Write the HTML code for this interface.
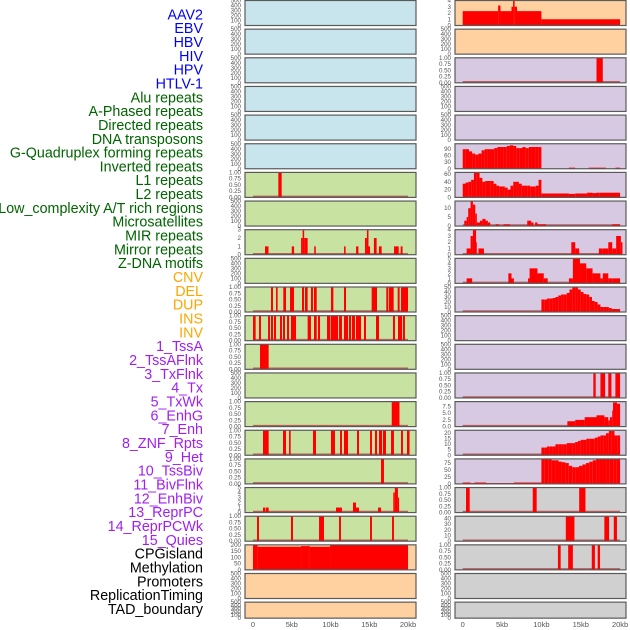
<!DOCTYPE html>
<html><head><meta charset="utf-8"><style>
body{margin:0;background:#fff;}
svg{display:block;font-family:"Liberation Sans",sans-serif;}
</style></head><body>
<svg id="c" width="630" height="630"></svg>
<script>
const trackLabels=["AAV2","EBV","HBV","HIV","HPV","HTLV-1","Alu repeats","A-Phased repeats","Directed repeats","DNA transposons","G-Quadruplex forming repeats","Inverted repeats","L1 repeats","L2 repeats","Low_complexity A/T rich regions","Microsatellites","MIR repeats","Mirror repeats","Z-DNA motifs","CNV","DEL","DUP","INS","INV","1_TssA","2_TssAFlnk","3_TxFlnk","4_Tx","5_TxWk","6_EnhG","7_Enh","8_ZNF_Rpts","9_Het","10_TssBiv","11_BivFlnk","12_EnhBiv","13_ReprPC","14_ReprPCWk","15_Quies","CPGisland","Methylation","Promoters","ReplicationTiming","TAD_boundary"];
const labelColors=[];
for(let i=0;i<44;i++){labelColors.push(i<6?"#0000ff":i<19?"#006400":i<24?"#ffa500":i<39?"#a020f0":"#000000");}
const xTicks=[0,5,10,15,20];
const xTickLabels=["0","5kb","10kb","15kb","20kb"];
const ticksEmpty=[0,100,200,300,400,500];
const ticksUnit=[0,0.25,0.5,0.75,1];
const ticksUnitLbl=["0.00","0.25","0.50","0.75","1.00"];
// left column
const segL6=[[3.27,3.7,1]];
const segL8=[[1.55,2.0,1],[5.0,5.3,1],[6.2,6.4,2],[6.4,6.6,3],[6.6,7.05,2],[7.9,8.1,1],[11.75,11.95,1],[13.3,13.6,1],[14.45,14.7,2],[14.7,14.9,3],[14.9,15.1,1],[15.6,15.95,2],[16.25,16.6,1],[18.2,18.8,1],[19.05,19.3,1]];
const segL10=[[2.32,2.58,1],[2.97,3.18,1],[3.91,4.26,1],[4.77,5.29,1],[6.32,6.58,1],[6.71,7.05,1],[7.48,7.74,1],[7.87,8.22,1],[10.06,10.37,1],[11.74,12.0,1],[15.31,16.0,1],[17.2,17.46,1],[17.55,18.15,1],[18.67,18.92,1],[19.1,20.0,1]];
const segL11=[[0,0.34,1],[0.77,1.03,1],[1.94,2.19,1],[2.32,2.58,1],[2.71,2.97,1],[3.48,3.74,1],[3.87,4.13,1],[4.39,4.65,1],[4.9,5.55,1],[7.05,7.48,1],[7.87,8.22,1],[8.39,8.65,1],[9.55,9.98,1],[10.06,10.97,1],[11.1,11.48,1],[11.74,12.26,1],[12.39,12.65,1],[12.77,13.16,1],[13.29,13.94,1],[14.32,14.58,1],[15.87,16.26,1],[18.06,18.32,1],[18.71,19.23,1],[19.35,19.61,1]];
const segL12=[[0.9,2.02,1]];
const segL14=[[17.9,18.9,1]];
const segL15=[[1.29,2.02,1],[3.87,4.26,1],[4.65,4.86,1],[7.74,8.13,1],[10.06,10.58,1],[11.23,11.48,1],[11.74,12.26,1],[13.42,13.68,1],[15.1,15.35,1],[15.74,16.0,1],[16.26,16.65,1],[16.77,17.16,1],[17.81,18.19,1],[19.1,19.35,1],[19.87,20.2,1]];
const segL16=[[16.52,16.9,1]];
const segL17=[[1.29,1.55,1],[1.63,2.02,1],[10.71,11.48,1],[12.9,13.29,2],[13.29,13.68,1],[16.13,16.52,1],[18.1,18.3,4],[18.3,18.7,5],[18.7,18.85,3]];
const segL18=[[0.52,0.77,1],[4.9,5.16,1],[8.52,9.16,1],[11.1,11.35,1],[15.1,15.35,1],[17.94,18.19,1]];
const segL19=[[0,0.6,200],[0.6,6.2,185],[6.2,7.1,190],[7.1,7.3,192],[7.3,9.94,185],[9.94,20.0,200]];
// right column
const segR0=[[0,4.5,2.3],[4.5,4.8,3.2],[4.8,6.2,2.3],[6.2,6.4,3],[6.4,6.6,4],[6.6,6.9,3],[6.9,10.0,2.3],[10.0,20.0,1]];
const segR2=[[17.0,17.8,1]];
const r5Vals=[90,90,80,70,65,70,85,90,90,90,95,100,100,100,105,108,105,95,95,100,95,100,100,100,100];
const segR5=[[13.5,14.3,5],[16.0,18.2,5],[19.4,20.0,5]];
const r6Vals=[35,38,40,45,65,65,50,40,42,42,42,35,30,28,28,25,20,30,40,40,35,30,30,30,28,28,30,45];
const segR6=[[10,13.5,10],[13.5,14.3,9],[14.3,15.8,10],[15.8,16.5,12],[16.5,17,11],[17,17.4,12],[17.4,20,12]];
const segR7=[[0.2,0.5,3],[0.5,0.7,5],[0.7,1.0,10],[1.0,1.3,14],[1.3,1.6,12],[1.6,1.8,7],[1.8,2.2,2],[2.2,2.5,3],[2.5,2.9,4],[2.9,3.2,3],[3.2,3.5,2],[4.2,4.6,1],[5.2,6.0,1],[8.2,8.7,3],[8.7,9.0,2],[9.2,9.5,2],[9.5,10.6,1],[19.0,20.0,1]];
const segR8=[[0.5,1.0,1],[1.0,1.3,3],[1.3,1.7,4],[1.7,1.8,2],[2.0,2.7,1],[13.8,14.3,2],[14.3,14.8,1],[17.3,17.8,1],[17.8,18.5,1],[18.5,19.0,2],[19.0,19.5,1],[19.5,20.1,3],[20.1,20.3,2]];
const segR9=[[0.5,1.2,1],[5.8,6.2,2],[6.2,6.5,1],[8.3,8.5,1],[8.5,9.5,3],[9.5,10.3,2],[10.3,10.8,1],[13.5,14.0,1],[14.0,14.9,5],[14.9,15.7,4],[15.7,16.5,3],[16.5,17.5,2],[17.5,17.8,1],[17.8,18.5,2],[18.5,19.0,1],[19.0,20.0,1]];
const r10Vals=[25,25,27,27,28,30,33,35,35,38,45,50,50,45,40,36,35,30,22,20,15,10,10,10,8,6,6,6];
const segR13=[[16.6,16.9,1],[17.5,18.1,1],[18.5,18.9,1],[19.4,20.0,1]];
const segR14=[[13.3,14.3,2.0],[14.3,15.5,2.5],[15.5,17.0,3.5],[17.0,18.0,4.2],[18.0,18.5,3.5],[18.5,18.7,2.3],[18.7,19.0,3.5],[19.0,19.1,6],[19.1,19.6,9],[19.6,20.0,8.5]];
const r15Vals=[7,7,8,8,8,10,10,10,10,11,11,11,12,13,14,14,15,15,15,16,17,18,18,20,22,22,18,18];
const segR16=[[0,1,5],[1,1.5,3],[1.5,3,5],[3,6.5,3],[6.5,10,5]];
const r16Vals=[90,90,88,85,85,80,78,75,65,60,60,65,70,75,80,85,88,90,90,90,90,88,88];
const segR17=[[0.42,0.89,1],[8.9,9.4,1],[14.8,15.6,1]];
const segR18=[[13.1,14.2,45],[18.0,18.6,45],[19.2,19.6,45]];
const segR19=[[12.1,12.45,1],[13.4,14.0,1],[16.4,16.8,1],[17.15,17.45,1]];

function spread(vals,a,b){const w=(b-a)/vals.length;return vals.map((v,i)=>[a+i*w,a+(i+1)*w,v]);}
const blue="#c8e5ed",green="#c8e2a2",orange="#ffd1a0",purple="#d8c9e3",gray="#d0d0d0";
const tk5=[0,1,2,3,4,5],tk4=[0,1,2,3,4],tk3=[0,1,2,3];
const panels=[];
function P(col,row,bg,ticks,lbls,ymax,segs,base){panels.push({col,row,bg,ticks,lbls,ymax,segs,base});}
for(let r=0;r<6;r++)P(0,r,blue,ticksEmpty,null,500,[],false);
P(0,6,green,ticksUnit,ticksUnitLbl,1,segL6,true);
P(0,7,green,ticksEmpty,null,500,[],false);
P(0,8,green,tk3,null,3,segL8,true);
P(0,9,green,ticksEmpty,null,500,[],false);
P(0,10,green,ticksUnit,ticksUnitLbl,1,segL10,true);
P(0,11,green,ticksUnit,ticksUnitLbl,1,segL11,true);
P(0,12,green,ticksUnit,ticksUnitLbl,1,segL12,true);
P(0,13,green,ticksEmpty,null,500,[],false);
P(0,14,green,ticksUnit,ticksUnitLbl,1,segL14,true);
P(0,15,green,ticksUnit,ticksUnitLbl,1,segL15,true);
P(0,16,green,ticksUnit,ticksUnitLbl,1,segL16,true);
P(0,17,green,tk5,null,5,segL17,true);
P(0,18,green,ticksUnit,ticksUnitLbl,1,segL18,true);
P(0,19,orange,[0,50,100,150,200],null,200,segL19,false);
P(0,20,orange,ticksEmpty,null,500,[],false);
P(0,21,orange,ticksEmpty,null,500,[],false);
P(1,0,orange,tk4,null,4,segR0,false);
P(1,1,orange,ticksEmpty,null,500,[],false);
P(1,2,purple,ticksUnit,ticksUnitLbl,1,segR2,true);
P(1,3,purple,ticksEmpty,null,500,[],false);
P(1,4,purple,ticksEmpty,null,500,[],false);
P(1,5,purple,[0,30,60,90],null,115,spread(r5Vals,0,10).concat(segR5),false);
P(1,6,purple,[0,20,40,60],null,64,spread(r6Vals,0,10).concat(segR6),false);
P(1,7,purple,[0,5,10],null,14,segR7,true);
P(1,8,purple,tk4,null,4,segR8,true);
P(1,9,purple,tk5,null,5,segR9,true);
P(1,10,purple,[0,10,20,30,40,50],null,50,spread(r10Vals,10,20),true);
P(1,11,purple,ticksEmpty,null,500,[],false);
P(1,12,purple,ticksEmpty,null,500,[],false);
P(1,13,purple,ticksUnit,ticksUnitLbl,1,segR13,true);
P(1,14,purple,[0,2.5,5,7.5],["0.0","2.5","5.0","7.5"],9.3,segR14,true);
P(1,15,purple,[0,5,10,15,20],null,22.7,spread(r15Vals,10,20),true);
P(1,16,purple,[0,25,50,75],null,90,segR16.concat(spread(r16Vals,10,20)),false);
P(1,17,gray,ticksUnit,ticksUnitLbl,1,segR17,true);
P(1,18,gray,[0,10,20,30,40],null,44,segR18,true);
P(1,19,gray,ticksUnit,ticksUnitLbl,1,segR19,true);
P(1,20,gray,ticksEmpty,null,500,[],false);
P(1,21,gray,ticksEmpty,null,500,[],false);

const NS="http://www.w3.org/2000/svg";
const svg=document.getElementById("c");
function mk(tag,attrs,parent){const e=document.createElementNS(NS,tag);for(const k in attrs)e.setAttribute(k,attrs[k]);(parent||svg).appendChild(e);return e;}
const colX=[{l:245,r:416,x0:253,k:7.75},{l:455,r:626,x0:462.7,k:7.87}];
function xScale(c,kb){return colX[c].x0+kb*colX[c].k;}

// labels
trackLabels.forEach((t,i)=>{
  const e=mk("text",{x:203,y:15.5+i*13.83,"text-anchor":"end","dominant-baseline":"middle","font-size":"14.3",fill:labelColors[i]});
  e.textContent=t;
  
  
});

panels.forEach(p=>{
  const c=colX[p.col];
  const top=0.5+p.row*28.65;
  const h=p.row===21?16:25;
  const bot=top+h;
  const g=mk("g",{});
  
  
  mk("rect",{x:c.l,y:top,width:c.r-c.l,height:h,fill:p.bg},g);
  const ys=v=>bot-Math.min(v,p.ymax)/p.ymax*h;
  if(p.base){
    const bl=mk("line",{x1:xScale(p.col,0),x2:xScale(p.col,20),y1:bot-1,y2:bot-1,stroke:"#b04040","stroke-width":"1.5",opacity:"0.8"},g);
    
    
  }
  p.segs.forEach(s=>{
    const x1=xScale(p.col,s[0]),x2=xScale(p.col,s[1]);
    const y=ys(s[2]);
    const r=mk("rect",{x:x1,y:y,width:Math.max(0.8,x2-x1),height:bot-y,fill:"#ff0000"},g);
    
    
  });
  mk("rect",{x:c.l,y:top,width:c.r-c.l,height:h,fill:"none",stroke:"#5a5a5a","stroke-width":"1.2"},g);
  p.ticks.forEach((t,i)=>{
    const tt=mk("text",{x:c.l-4,y:ys(t)+2,"text-anchor":"end","font-size":"6.2",fill:"#555"},g);
    tt.textContent=p.lbls?p.lbls[i]:String(t);
    
    
  });
});

[0,1].forEach(col=>{
  xTicks.forEach((t,i)=>{
    const e=mk("text",{x:xScale(col,t),y:627,"text-anchor":"middle","font-size":"7.5",fill:"#555"});
    e.textContent=xTickLabels[i];
    
    
  });
});
</script>
</body></html>
